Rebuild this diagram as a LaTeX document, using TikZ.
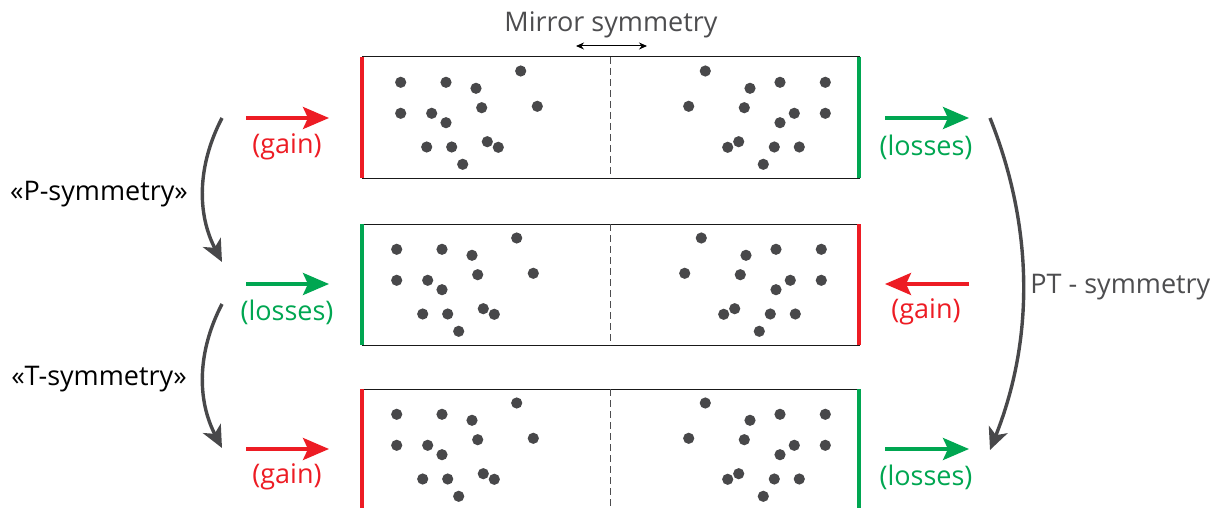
\documentclass[tikz,border=0pt]{standalone}
\usepackage{fontspec}
\setmainfont{Open Sans}
\usetikzlibrary{positioning,arrows.meta,calc}
\definecolor{GainRed}{RGB}{237,28,36}
\definecolor{LossGreen}{RGB}{0,166,81}
\definecolor{DotGray}{RGB}{72,72,74}
\definecolor{LabelGray}{RGB}{77,77,79}
\tikzset{
  panel/.style={draw=black!90,line width=0.5pt,minimum width=248.5pt,minimum height=60.5pt,inner sep=0pt,outer sep=0pt},
  gainside/.style={draw=GainRed,line width=1.6pt},
  lossside/.style={draw=LossGreen,line width=1.6pt},
  mirrorline/.style={draw=LabelGray,line width=0.5pt,dash pattern=on 3.5pt off 2pt},
  particle/.style={fill=DotGray},
  flow/.style={-{Stealth[length=13pt,width=11pt,inset=2.5pt]},line width=1.8pt},
  gainarrow/.style={flow,draw=GainRed},
  lossarrow/.style={flow,draw=LossGreen},
  lbl/.style={font=\fontsize{13.5}{16}\selectfont,inner sep=0pt},
  gainlbl/.style={lbl,text=GainRed},
  losslbl/.style={lbl,text=LossGreen},
  symarrow/.style={-{Stealth[length=11pt,width=10pt,inset=3pt]},draw=DotGray,line width=1.7pt},
  symlbl/.style={lbl,anchor=base},
}
% two mirrored halves of particles: #1 panel, #2 shift of left half, #3 shift of right half
\newcommand{\scatterdots}[3]{%
  \foreach \dx/\dy in {38.7/25.3,84/25.3,114/31.3,158.7/14,38.7/56.3,69.7/56.3,84/65.7,119.7/50.7,175.3/49.3,64.7/90,89.7/90,125.3/84.7,136.3/90.3,100.7/107.3}{
    \fill[particle] ($(#1.north west)+(\dx+#2,\dy)$) circle[radius=5.6];
    \fill[particle] ($(#1.north west)+(502-\dx+#3,\dy)$) circle[radius=5.6];
  }}

\begin{document}
\begin{tikzpicture}[x=0.5pt,y=-0.5pt]
  \useasboundingbox (0,0) rectangle (1221,508);
  \clip (0,0) rectangle (1221,508);
  % panels
  \node[panel,anchor=north west] (top) at (362,57) {};
  \node[panel,below=23pt of top] (mid) {};
  \node[panel,below=22pt of mid] (bot) {};
  \foreach \p in {top,mid,bot} \draw[mirrorline] (\p.north) -- (\p.south);
  \draw[gainside] (top.north west) -- (top.south west);
  \draw[lossside] (top.north east) -- (top.south east);
  \draw[lossside] (mid.north west) -- (mid.south west);
  \draw[gainside] (mid.north east) -- (mid.south east);
  \draw[gainside] (bot.north west) -- (bot.south west);
  \draw[lossside] (bot.north east) -- (bot.south east);
  \scatterdots{top}{0}{0}
  \scatterdots{mid}{-4}{-4}
  \scatterdots{bot}{-4}{0}
  % mirror symmetry
  \coordinate (ml) at (576,46);
  \coordinate (mr) at (647,46);
  \draw[{Stealth[length=4pt,width=3.5pt]}-{Stealth[length=4pt,width=3.5pt]},line width=0.5pt] (ml) -- (mr);
  \node[symlbl,text=LabelGray] (mirror) at (611,32) {Mirror symmetry};
  % left arrows
  \coordinate (l1a) at (246,118); \coordinate (l1b) at (329,118);
  \coordinate (l2a) at (246,284); \coordinate (l2b) at (329,284);
  \coordinate (l3a) at (246,449); \coordinate (l3b) at (329,449);
  \draw[gainarrow] (l1a) -- (l1b);
  \draw[lossarrow] (l2a) -- (l2b);
  \draw[gainarrow] (l3a) -- (l3b);
  \node[gainlbl] (gl1) at (287,147) {(gain)};
  \node[losslbl] (ll2) at (287,312) {(losses)};
  \node[gainlbl] (gl3) at (287,477) {(gain)};
  % right arrows
  \coordinate (r1a) at (885,118); \coordinate (r1b) at (969,118);
  \coordinate (r2a) at (969,284); \coordinate (r2b) at (885,284);
  \coordinate (r3a) at (885,449); \coordinate (r3b) at (969,449);
  \draw[lossarrow] (r1a) -- (r1b);
  \draw[gainarrow] (r2a) -- (r2b);
  \draw[lossarrow] (r3a) -- (r3b);
  \node[losslbl] (lr1) at (926,147) {(losses)};
  \node[gainlbl] (gr2) at (926,312) {(gain)};
  \node[losslbl] (lr3) at (926,477) {(losses)};
  % symmetry operations
  \coordinate (p0) at (222,118); \coordinate (p1) at (222,262);
  \coordinate (t0) at (222,304); \coordinate (t1) at (222,448);
  \coordinate (q0) at (990,118); \coordinate (q1) at (990,450);
  \draw[symarrow] (p0) .. controls (197,166) and (197,214) .. (p1);
  \draw[symarrow] (t0) .. controls (197,352) and (197,400) .. (t1);
  \draw[symarrow] (q0) .. controls (1034,228) and (1034,340) .. (q1);
  \node[symlbl] (psym) at (99,200) {«P-symmetry»};
  \node[symlbl] (tsym) at (99,385) {«T-symmetry»};
  \node[symlbl,anchor=base west,text=LabelGray] (ptsym) at (1030,293) {PT - symmetry};
\end{tikzpicture}
\end{document}
